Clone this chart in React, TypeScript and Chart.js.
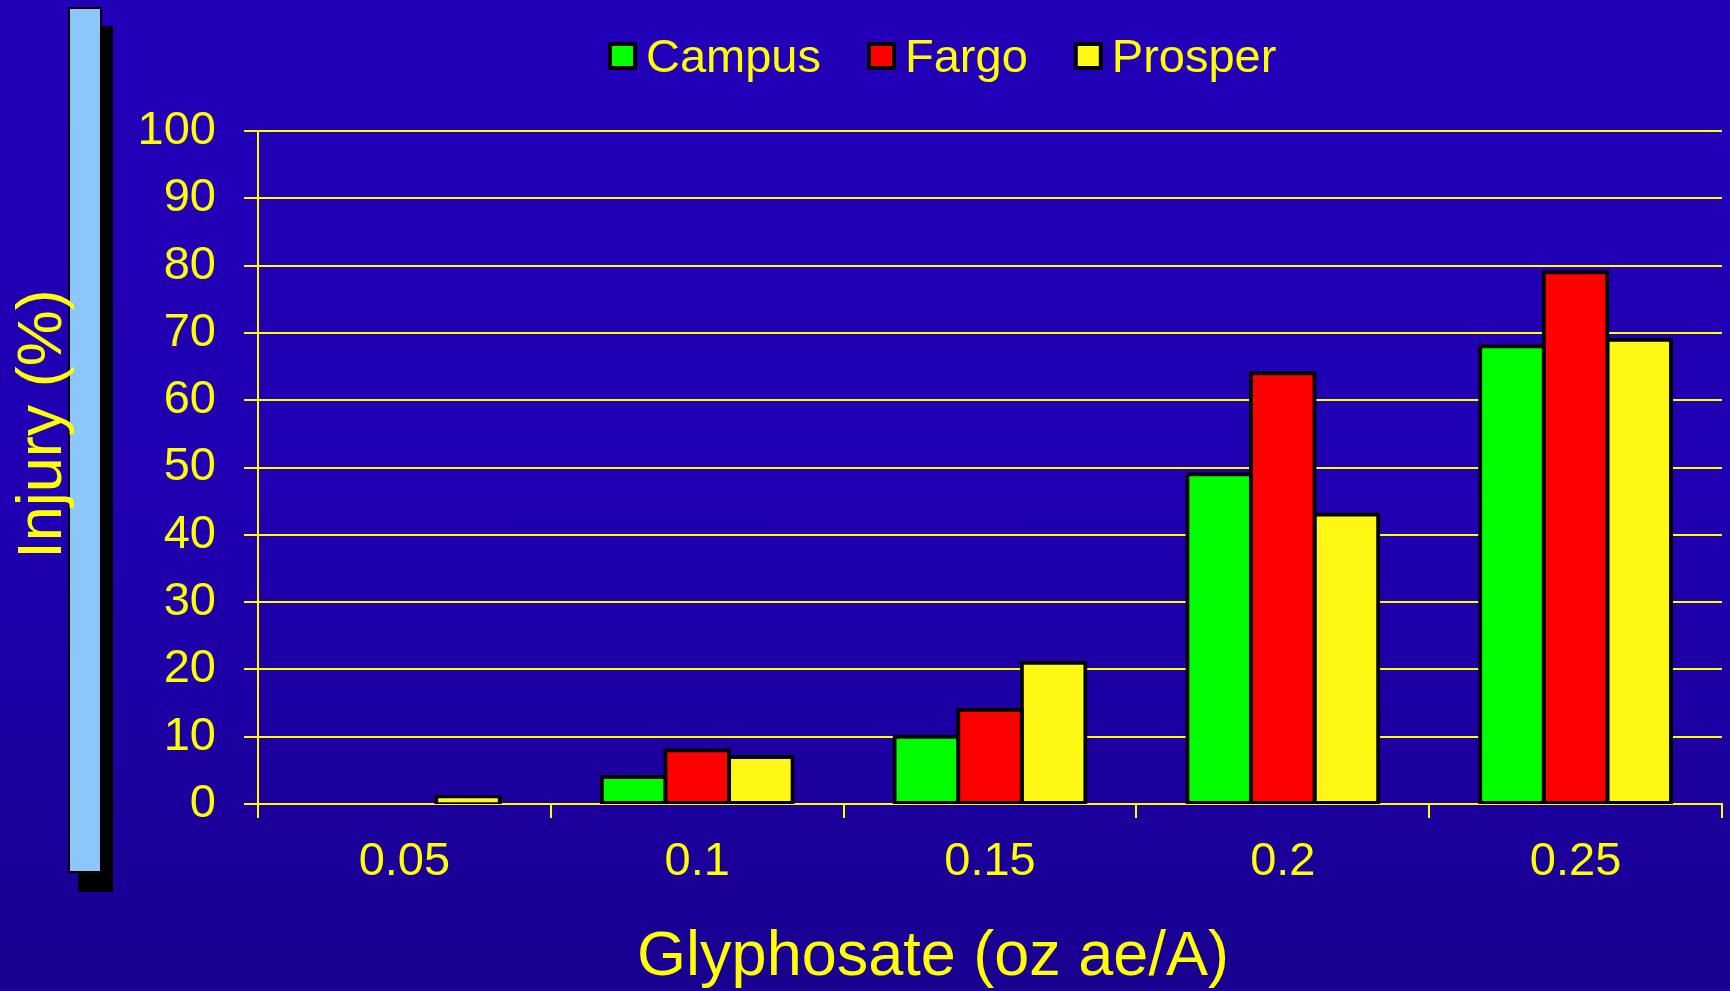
import { useEffect, useRef } from 'react';
import { Chart, registerables } from 'chart.js';

Chart.register(...registerables);

// ---- data ----
const doses = ['0.05', '0.1', '0.15', '0.2', '0.25'];
const seriesNames = ['Campus', 'Fargo', 'Prosper'];
const campus = [0, 4, 10, 49, 68];
const fargo = [0, 8, 14, 64, 79];
const prosper = [1, 7, 21, 43, 69];
const seriesColors = ['#00FF00', '#FF0000', '#FFF714'];
const yMin = 0;
const yMax = 100;
const yStep = 10;
const xTitle = 'Glyphosate (oz ae/A)';
const yTitle = 'Injury (%)';

const FONT = '"Liberation Sans", Arial, Helvetica, sans-serif';
const YELLOW = '#FFFF00';

const overlayPlugin = {
  id: 'overlayText',
  afterDraw(chart: any) {
    const ctx = chart.ctx as CanvasRenderingContext2D;
    ctx.save();
    ctx.fillStyle = YELLOW;
    ctx.font = `63px ${FONT}`;
    ctx.textAlign = 'center';
    ctx.textBaseline = 'alphabetic';
    // x axis title
    ctx.fillText(xTitle, 933, 975);
    // y axis title (rotated)
    ctx.save();
    ctx.translate(61, 424);
    ctx.rotate(-Math.PI / 2);
    ctx.fillText(yTitle, 0, 0);
    ctx.restore();
    // legend
    ctx.font = `47px ${FONT}`;
    ctx.textAlign = 'left';
    let x = 608;
    chart.data.datasets.forEach((ds: any) => {
      ctx.fillStyle = '#000000';
      ctx.fillRect(x, 42, 29, 28);
      ctx.fillStyle = ds.backgroundColor;
      ctx.fillRect(x + 4, 46, 21, 20);
      ctx.fillStyle = YELLOW;
      const tx = x + 29 + 9;
      ctx.fillText(ds.label, tx, 72);
      x = tx + ctx.measureText(ds.label).width + 46;
    });
    ctx.restore();
  },
};

export default function App() {
  const canvasRef = useRef<HTMLCanvasElement | null>(null);

  useEffect(() => {
    const canvas = canvasRef.current;
    if (!canvas) return;
    const values = [campus, fargo, prosper];
    const chart = new Chart(canvas, {
      type: 'bar',
      data: {
        labels: doses,
        datasets: seriesNames.map((name, i) => ({
          label: name,
          data: values[i],
          backgroundColor: seriesColors[i],
          borderColor: '#000000',
          borderWidth: 4,
          borderSkipped: false,
          inflateAmount: (c: any) => (c.raw ? 2 : 0),
          categoryPercentage: 0.652,
          barPercentage: 1.0,
        })),
      },
      options: {
        animation: false,
        responsive: false,
        maintainAspectRatio: false,
        devicePixelRatio: 1,
        layout: { padding: { top: 131, right: 8, left: 0, bottom: 0 } },
        plugins: {
          legend: { display: false },
          tooltip: { enabled: false },
          title: { display: false },
        },
        scales: {
          x: {
            type: 'category',
            grid: {
              offset: true,
              drawOnChartArea: false,
              drawTicks: true,
              tickLength: 14,
              color: YELLOW,
              lineWidth: 2,
            },
            border: { display: true, color: YELLOW, width: 2 },
            ticks: {
              color: YELLOW,
              font: { family: FONT, size: 47 },
              padding: 16,
              maxRotation: 0,
              autoSkip: false,
            },
            afterFit: (s: any) => {
              s.height = 187;
              s.paddingLeft = 0;
              s.paddingRight = 0;
            },
          },
          y: {
            min: yMin,
            max: yMax,
            grid: {
              color: YELLOW,
              lineWidth: 2,
              drawTicks: true,
              tickLength: 14,
            },
            border: { display: true, color: YELLOW, width: 2 },
            ticks: {
              stepSize: yStep,
              color: YELLOW,
              font: { family: FONT, size: 47 },
              padding: 28,
            },
            afterFit: (s: any) => {
              s.width = 258;
              s.paddingTop = 0;
              s.paddingBottom = 0;
            },
          },
        },
      },
      plugins: [overlayPlugin],
    });
    return () => chart.destroy();
  }, []);

  return (
    <div
      style={{
        position: 'fixed',
        left: 0,
        top: 0,
        width: 1730,
        height: 991,
        overflow: 'hidden',
        background: 'linear-gradient(180deg, #2200B8 0%, #2000B2 50%, #180090 100%)',
      }}
    >
      <div style={{ position: 'absolute', left: 78, top: 26, width: 35, height: 866, background: '#000000' }} />
      <div
        style={{
          position: 'absolute',
          left: 68,
          top: 7,
          width: 30,
          height: 862,
          background: '#8CC6FA',
          border: '2px solid #000000',
        }}
      />
      <canvas
        ref={canvasRef}
        width={1730}
        height={991}
        style={{ position: 'absolute', left: 0, top: 0, width: 1730, height: 991 }}
      />
    </div>
  );
}
